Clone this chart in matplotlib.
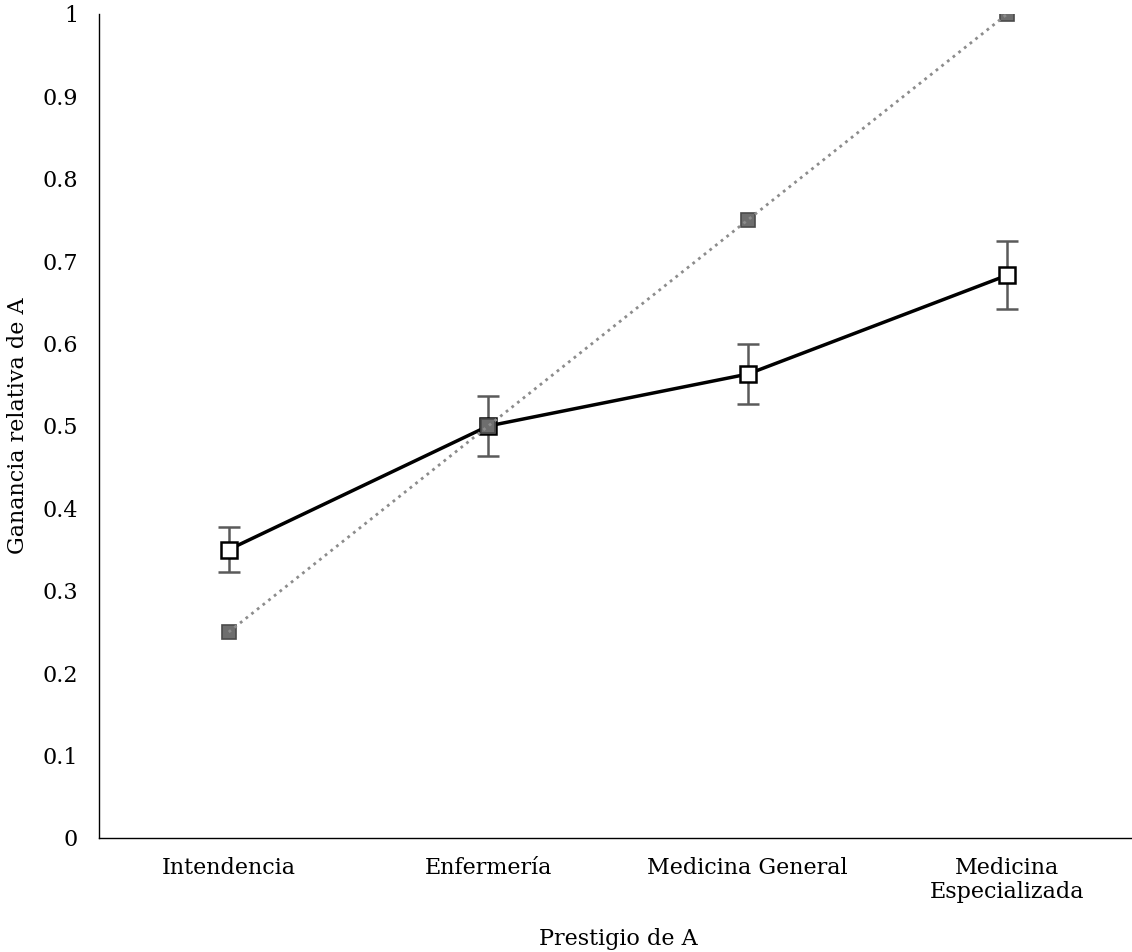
import numpy as np
import matplotlib.pyplot as plt

categories = ["Intendencia", "Enfermería", "Medicina General", "Medicina\nEspecializada"]
observed = [0.350, 0.500, 0.563, 0.683]
observed_err = [0.027, 0.036, 0.036, 0.041]
predicted = [0.25, 0.50, 0.75, 1.00]
yticks = [0, 0.1, 0.2, 0.3, 0.4, 0.5, 0.6, 0.7, 0.8, 0.9, 1]
ytick_labels = ["0", "0.1", "0.2", "0.3", "0.4", "0.5", "0.6", "0.7", "0.8", "0.9", "1"]

plt.rcParams["font.family"] = ["DejaVu Serif"]

fig = plt.figure(figsize=(11.32, 9.52), dpi=100)
ax = fig.add_axes([99 / 1132, (952 - 838) / 952, 1038 / 1132, 824 / 952])

x = np.arange(len(categories))

# observed means with error bars
ax.errorbar(x, observed, yerr=observed_err, fmt="none", ecolor="#5a5a5a",
            elinewidth=1.8, capsize=8, capthick=1.8, zorder=2)
ax.plot(x, observed, color="black", linewidth=2.5, marker="s", markersize=12,
        markerfacecolor="white", markeredgecolor="black", markeredgewidth=1.8,
        zorder=3)

# predicted values: markers first, dotted line drawn over them
ax.plot(x, predicted, linestyle="none", marker="s", markersize=10.5,
        markerfacecolor="#6e6e6e", markeredgecolor="#4a4a4a",
        markeredgewidth=1.2, zorder=4)
ax.plot(x, predicted, color="#8c8c8c", linestyle=(0, (1, 1.6)), linewidth=2,
        zorder=5)

ax.set_xlim(-0.5, len(categories) - 0.5)
ax.set_ylim(0, 1)
ax.set_xticks(x)
ax.set_xticklabels(categories, fontsize=16, linespacing=1.1)
ax.set_yticks(yticks)
ax.set_yticklabels(ytick_labels, fontsize=16)
ax.tick_params(axis="both", length=0)
ax.tick_params(axis="y", pad=15)
ax.tick_params(axis="x", pad=14)

for side in ["top", "right"]:
    ax.spines[side].set_visible(False)
for side in ["left", "bottom"]:
    ax.spines[side].set_linewidth(1.0)
    ax.spines[side].set_color("black")

ax.set_xlabel("Prestigio de A", fontsize=16, labelpad=18)
ax.set_ylabel("Ganancia relativa de A", fontsize=16, labelpad=10)

fig.savefig("out.png", dpi=100)
